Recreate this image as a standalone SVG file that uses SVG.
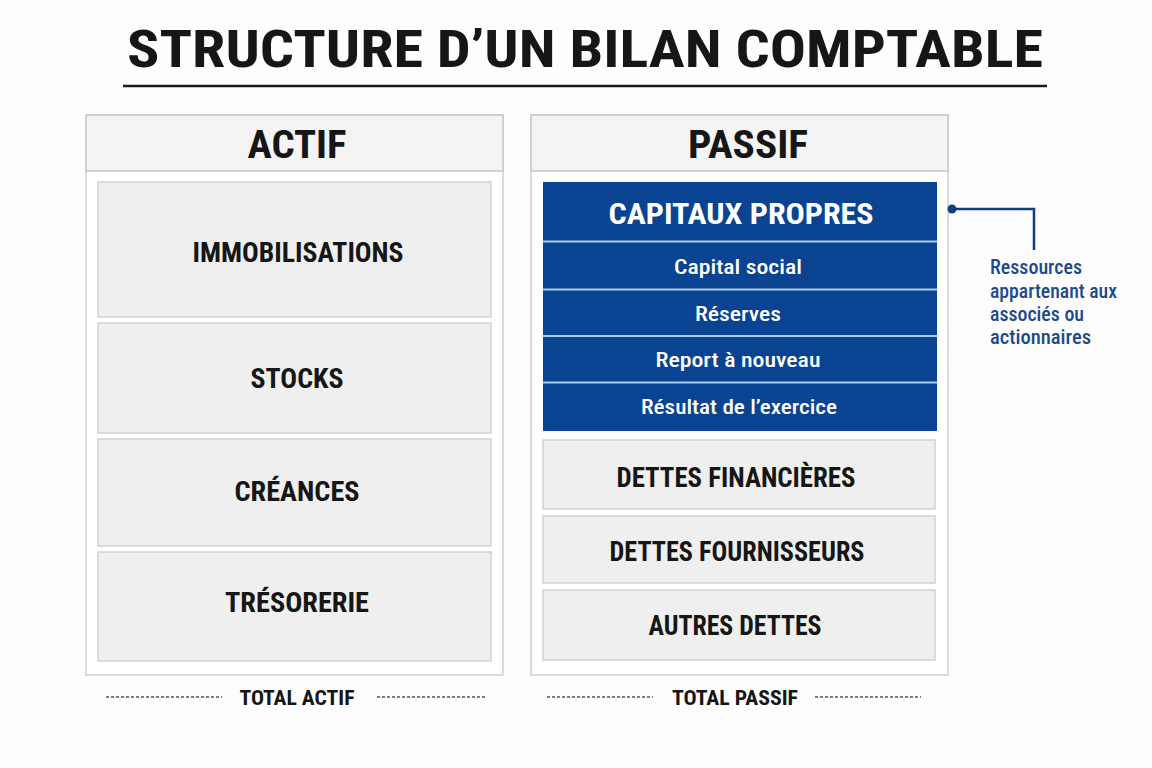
<svg xmlns="http://www.w3.org/2000/svg" width="1152" height="768" viewBox="0 0 1152 768">
<style>
text{font-family:"Roboto Condensed","Liberation Sans Narrow","DejaVu Sans Condensed",Roboto,"Liberation Sans",sans-serif;font-weight:700;text-anchor:middle;font-stretch:condensed}
.panel{fill:#ffffff;stroke:#cfcfcf;stroke-width:1.5}
.head{fill:#f4f4f4;stroke:#c8c8c8;stroke-width:1.5}
.box{fill:#efefef;stroke:#d2d2d2;stroke-width:1.5}
.blue{fill:#0a4391}
.sep{stroke:#a9cdf0;stroke-width:2}
.dark{fill:#161616}
.big{font-size:38px}
.item{font-size:27px}
.sub{font-size:21px;fill:#ffffff;font-weight:500}
.dash{stroke:#555;stroke-width:1.3;stroke-dasharray:3 2}
.tot{font-size:21px;fill:#161616}
.note{font-size:20px;fill:#1d4a8a;text-anchor:start;font-weight:500}
.conn{fill:none;stroke:#123f7c;stroke-width:2.5}
</style>
<rect width="1152" height="768" fill="#fdfdfd"/>
<g id="title">
<text x="585" y="67" font-size="52" class="dark" textLength="916" lengthAdjust="spacingAndGlyphs">STRUCTURE D’UN BILAN COMPTABLE</text>
<line x1="123" y1="86" x2="1047" y2="86" stroke="#1a1a1a" stroke-width="2.5"/>
</g>
<g id="actif">
<rect class="panel" x="86" y="115" width="417" height="560"/>
<rect class="head" x="86" y="115" width="417" height="56"/>
<text class="dark big" x="297" y="158" textLength="99" lengthAdjust="spacingAndGlyphs">ACTIF</text>
</g>
<g id="immobilisations">
<rect class="box" x="98" y="182" width="393" height="135"/>
<text class="dark item" x="298" y="262" textLength="211" lengthAdjust="spacingAndGlyphs">IMMOBILISATIONS</text>
</g>
<g id="stocks">
<rect class="box" x="98" y="323" width="393" height="110"/>
<text class="dark item" x="297" y="388" textLength="93" lengthAdjust="spacingAndGlyphs">STOCKS</text>
</g>
<g id="creances">
<rect class="box" x="98" y="439" width="393" height="107"/>
<text class="dark item" x="297" y="501" textLength="125" lengthAdjust="spacingAndGlyphs">CRÉANCES</text>
</g>
<g id="tresorerie">
<rect class="box" x="98" y="552" width="393" height="109"/>
<text class="dark item" x="297" y="612" textLength="144" lengthAdjust="spacingAndGlyphs">TRÉSORERIE</text>
</g>
<g id="passif">
<rect class="panel" x="531" y="115" width="417" height="560"/>
<rect class="head" x="531" y="115" width="417" height="56"/>
<text class="dark big" x="748" y="158" textLength="120" lengthAdjust="spacingAndGlyphs">PASSIF</text>
</g>
<g id="capitaux-propres">
<rect class="blue" x="543" y="182" width="394" height="249"/>
<line class="sep" x1="543" y1="241.5" x2="937" y2="241.5"/>
<line class="sep" x1="543" y1="289.5" x2="937" y2="289.5"/>
<line class="sep" x1="543" y1="336" x2="937" y2="336"/>
<line class="sep" x1="543" y1="382.5" x2="937" y2="382.5"/>
<text x="741" y="224" font-size="29" fill="#ffffff" textLength="265" lengthAdjust="spacingAndGlyphs">CAPITAUX PROPRES</text>
<text class="sub" x="738" y="274" textLength="128" lengthAdjust="spacingAndGlyphs">Capital social</text>
<text class="sub" x="738" y="321" textLength="86" lengthAdjust="spacingAndGlyphs">Réserves</text>
<text class="sub" x="738" y="367" textLength="165" lengthAdjust="spacingAndGlyphs">Report à nouveau</text>
<text class="sub" x="739" y="414" textLength="196" lengthAdjust="spacingAndGlyphs">Résultat de l’exercice</text>
</g>
<g id="dettes-financieres">
<rect class="box" x="543" y="440" width="392" height="69"/>
<text class="dark item" x="736" y="487" textLength="239" lengthAdjust="spacingAndGlyphs">DETTES FINANCIÈRES</text>
</g>
<g id="dettes-fournisseurs">
<rect class="box" x="543" y="516" width="392" height="67"/>
<text class="dark item" x="737" y="561" textLength="255" lengthAdjust="spacingAndGlyphs">DETTES FOURNISSEURS</text>
</g>
<g id="autres-dettes">
<rect class="box" x="543" y="590" width="392" height="70"/>
<text class="dark item" x="735" y="635" textLength="173" lengthAdjust="spacingAndGlyphs">AUTRES DETTES</text>
</g>
<g id="note">
<text class="note" x="990" y="274" textLength="92" lengthAdjust="spacingAndGlyphs">Ressources</text>
<text class="note" x="990" y="298" textLength="127" lengthAdjust="spacingAndGlyphs">appartenant aux</text>
<text class="note" x="990" y="321" textLength="94" lengthAdjust="spacingAndGlyphs">associés ou</text>
<text class="note" x="990" y="344" textLength="101" lengthAdjust="spacingAndGlyphs">actionnaires</text>
</g>
<g id="connectors">
<circle cx="952" cy="209" r="4.5" fill="#123f7c"/>
<polyline class="conn" points="952,209 1034,209 1034,250"/>
</g>
<g id="totals">
<line class="dash" x1="106" y1="697" x2="222" y2="697"/>
<text class="tot" x="297" y="705" textLength="115" lengthAdjust="spacingAndGlyphs">TOTAL ACTIF</text>
<line class="dash" x1="377" y1="697" x2="485" y2="697"/>
<line class="dash" x1="547" y1="697" x2="653" y2="697"/>
<text class="tot" x="735" y="705" textLength="126" lengthAdjust="spacingAndGlyphs">TOTAL PASSIF</text>
<line class="dash" x1="815" y1="697" x2="921" y2="697"/>
</g>
</svg>
